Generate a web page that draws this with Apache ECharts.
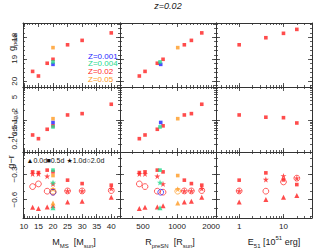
<!DOCTYPE html>
<html><head><meta charset="utf-8">
<script src="https://cdn.jsdelivr.net/npm/echarts@6/dist/echarts.min.js"></script>
<style>html,body{margin:0;padding:0;background:#fff}#c{width:314px;height:250px}</style>
</head><body><div id="c"></div>
<script>
// ---------------- data (one entry per model) ----------------
const massMS      = [13, 15, 18, 20, 20, 20, 20, 25, 30, 40, 25, 25, 25];
const metallicity = [0.02, 0.02, 0.02, 0.02, 0.001, 0.004, 0.05, 0.02, 0.02, 0.02, 0.02, 0.02, 0.02];
const radiusPreSN = [521, 464, 669, 752, 717, 707, 1014, 1160, 1339, 1654, 1160, 1160, 1160];
const energy51    = [1, 1, 1, 1, 1, 1, 1, 1, 1, 1, 4, 10, 20];
const gPeak       = [19.55, 19.76, 19.18, 19.00, 19.23, 19.12, 18.47, 18.34, 18.14, 17.80, 18.02, 17.82, 17.64];
const tHalfMag    = [0.368, 0.285, 0.545, 0.69, 0.87, 0.64, 1.13, 1.46, 1.60, 3.05, 1.25, 1.21, 0.84];
const grDay00     = [-0.691, -0.706, -0.688, -0.672, null, -0.696, -0.640, -0.628, -0.619, -0.571, -0.600, -0.571, -0.552];
const grDay05     = [-0.268, -0.276, -0.247, -0.268, null, -0.247, -0.312, -0.367, -0.408, -0.427, -0.280, -0.364, -0.420];
const grDay10     = [-0.292, -0.292, -0.320, -0.412, null, -0.396, -0.475, -0.496, -0.496, -0.468, -0.360, -0.316, -0.343];
const grDay20     = [-0.444, -0.412, -0.499, -0.511, -0.511, null, -0.499, -0.496, -0.496, -0.492, -0.499, -0.388, -0.343];

const zValues  = [0.001, 0.004, 0.02, 0.05];
const zLabels  = ['Z=0.001', 'Z=0.004', 'Z=0.02', 'Z=0.05'];
const zColors  = ['#1f1fff', '#1fd98c', '#ff1f1f', '#ff9a22'];
const phaseLabels = ['0.0d', '0.5d', '1.0d', '2.0d'];
const phaseGlyphs = ['\u25B2', '\u25A0', '\u2605', '\u25CB'];

const massTickLabels   = [10, 15, 20, 25, 30, 35, 40];
const radiusTickLabels = [500, 1000, 2000];
const energyTickLabels = [1, 10];
const gPeakTickLabels  = [18, 19, 20];
const tTickLabels      = [0.2, 0.5, 1, 2, 5];
const grTickLabels     = [-0.3, -0.6];

// ---------------- layout ----------------
const colLeft = [23, 120, 216], colWidth = [97, 96, 96];
const rowTop = [23, 87, 152], rowHeight = [64, 65, 66];
const FONT = 'Liberation Sans';
const AX = '#333';

function range(a, b, s) { const o = []; for (let v = a; v <= b + 1e-9; v += s) o.push(+v.toFixed(4)); return o; }
function logMinor(decs) { const o = []; decs.forEach(d => { for (let k = 1; k < 10; k++) o.push(+(k * d).toPrecision(3)); }); return o; }
const fmtNum = v => { const n = +(+v).toPrecision(3); return n < 0 ? '\u2212' + Math.abs(n) : String(n); };

const xCfg = [
  { type: 'value', min: 9.7, max: 43, major: massTickLabels, minor: range(10, 43, 1), labels: massTickLabels },
  { type: 'log', min: 313, max: 2210, major: [1000], minor: range(300, 2200, 100), labels: radiusTickLabels },
  { type: 'log', min: 0.3, max: 44, major: [1, 10], minor: logMinor([0.1, 1, 10]), labels: energyTickLabels }
];
const yCfg = [
  { type: 'value', min: 17.35, max: 20.26, inverse: true, major: gPeakTickLabels, minor: range(17.4, 20.2, 0.2), labels: gPeakTickLabels },
  { type: 'log', min: 0.114, max: 10, major: [0.1, 1, 10], minor: logMinor([0.1, 1]), labels: tTickLabels },
  { type: 'value', min: -0.82, max: -0.03, major: grTickLabels, minor: range(-0.8, -0.1, 0.1), labels: grTickLabels }
];

function axisSet(dim, g, cfg, showLabels) {
  const sides = dim === 'x' ? ['bottom', 'top'] : ['left', 'right'];
  const out = [];
  sides.forEach((pos, si) => {
    ['major', 'minor'].forEach(kind => {
      const isMain = si === 0 && kind === 'major';
      out.push({
        gridIndex: g, type: cfg.type, logBase: 10, min: cfg.min, max: cfg.max, inverse: !!cfg.inverse,
        position: pos, silent: true,
        axisLine: { show: kind === 'major', onZero: false, lineStyle: { color: AX, width: 1 } },
        axisTick: { show: true, inside: true, length: kind === 'major' ? 4 : 2,
          customValues: kind === 'major' ? cfg.major : cfg.minor, lineStyle: { color: AX, width: 0.8 } },
        axisLabel: { show: isMain && showLabels, customValues: cfg.labels, formatter: fmtNum,
          fontSize: 8, color: '#222', fontFamily: FONT, margin: dim === 'y' ? 5 : 4, rotate: dim === 'y' ? 90 : 0 },
        splitLine: { show: false }, minorTick: { show: false }, splitArea: { show: false }
      });
    });
  });
  return out;
}

const grids = [], xAxes = [], yAxes = [], series = [];
const nModels = massMS.length;
const colX = [massMS, radiusPreSN, energy51];
const colFilter = [
  i => energy51[i] === 1,
  i => energy51[i] === 1,
  i => massMS[i] === 25 && metallicity[i] === 0.02
];
const colorOf = i => zColors[zValues.indexOf(metallicity[i])];
const starPath = 'path://M50,0 L61.8,35.1 98.6,35.1 68.9,56.8 80.3,91.9 50,70.2 19.7,91.9 31.1,56.8 1.4,35.1 38.2,35.1 Z';
const phaseData = [grDay00, grDay05, grDay10, grDay20];
const phaseSymbol = ['triangle', 'rect', starPath, 'circle'];
const phaseSize = [5, 3.6, 6, 5.8];

for (let r = 0; r < 3; r++) {
  for (let c = 0; c < 3; c++) {
    const g = r * 3 + c;
    grids.push({ left: colLeft[c], top: rowTop[r], width: colWidth[c], height: rowHeight[r] });
    xAxes.push(...axisSet('x', g, xCfg[c], r === 2));
    yAxes.push(...axisSet('y', g, yCfg[r], c === 0));
    const idx = [];
    for (let i = 0; i < nModels; i++) if (colFilter[c](i)) idx.push(i);
    const xv = colX[c];
    if (r < 2) {
      const yv = r === 0 ? gPeak : tHalfMag;
      series.push({
        type: 'scatter', xAxisIndex: g * 4, yAxisIndex: g * 4, symbol: 'rect', symbolSize: 3.6,
        silent: true, animation: false,
        data: idx.map(i => ({ value: [xv[i], yv[i]], itemStyle: { color: colorOf(i) } }))
      });
    } else {
      phaseData.forEach((arr, p) => {
        series.push({
          type: 'scatter', xAxisIndex: g * 4, yAxisIndex: g * 4, symbol: phaseSymbol[p], symbolSize: phaseSize[p],
          silent: true, animation: false,
          data: idx.filter(i => arr[i] !== null).map(i => ({
            value: [xv[i], arr[i]],
            itemStyle: p === 3 ? { color: 'rgba(0,0,0,0)', borderColor: colorOf(i), borderWidth: 0.9 }
                               : { color: colorOf(i) }
          }))
        });
      });
    }
  }
}

// ---------------- texts ----------------
const richBase = {
  m: { fontSize: 9, lineHeight: 9, padding: [3, 0, 0, 0], verticalAlign: 'top', fontFamily: FONT, fill: '#222' },
  s: { fontSize: 6, lineHeight: 6, padding: [8, 0, 0, 0], verticalAlign: 'top', fontFamily: FONT, fill: '#222' },
  p: { fontSize: 6, lineHeight: 6, padding: [0, 0, 0, 0], verticalAlign: 'top', fontFamily: FONT, fill: '#222' }
};
function rt(text, x, y, rot) {
  return { type: 'text', x: x, y: y, rotation: rot || 0, silent: true,
    style: { text: text, rich: richBase, align: 'center', verticalAlign: 'middle', fill: '#222' } };
}
const graphics = [
  { type: 'text', x: 168, y: 6, silent: true,
    style: { text: 'z=0.02', font: 'italic 9px "' + FONT + '"', fill: '#222', align: 'center', verticalAlign: 'middle' } },
  rt('{m|M}{s|MS}{m|  [M}{s|sun}{m|]}', 74, 239),
  rt('{m|R}{s|preSN}{m|  [R}{s|sun}{m|]}', 170, 239),
  rt('{m|E}{s|51}{m| [10}{p|51}{m| erg]}', 274, 239),
  rt('{m|g}{s|peak}', 8.5, 42, Math.PI / 2),
  rt('{m|t}{s|0.5mag,g}', 8, 125, Math.PI / 2),
  rt('{m|g\u2212r}', 7.5, 162, Math.PI / 2)
];
zLabels.forEach((t, k) => {
  graphics.push({ type: 'text', x: 88, y: 56 + k * 7.8, silent: true,
    style: { text: t, font: '8px "' + FONT + '"', fill: zColors[k], align: 'left', verticalAlign: 'middle' } });
});
phaseLabels.forEach((t, k) => {
  graphics.push({ type: 'text', x: 26.5 + k * 20, y: 160.5, silent: true,
    style: { text: phaseGlyphs[k] + t, font: '7px "' + FONT + '", "DejaVu Sans"', fill: '#111', align: 'left', verticalAlign: 'middle' } });
});

const chart = echarts.init(document.getElementById('c'), null, { renderer: 'svg' });
chart.setOption({
  animation: false,
  backgroundColor: '#fff',
  grid: grids, xAxis: xAxes, yAxis: yAxes, series: series, graphic: graphics
});
</script></body></html>
